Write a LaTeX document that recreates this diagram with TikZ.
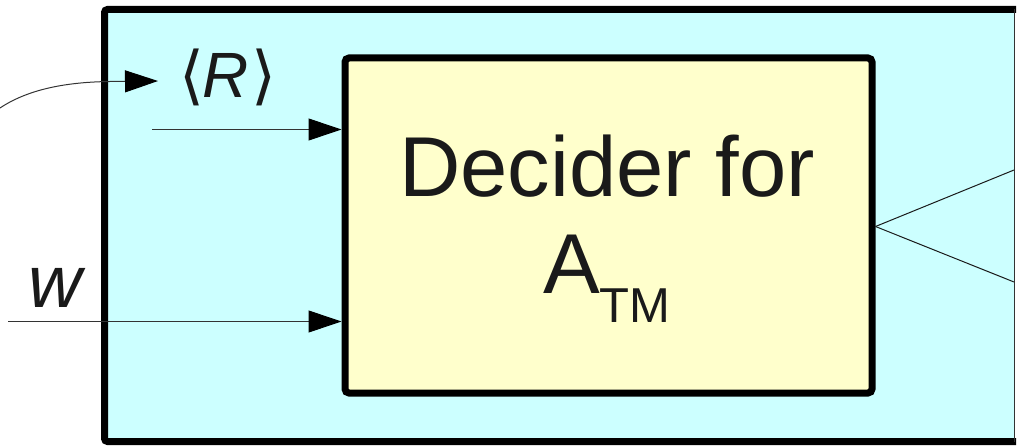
\documentclass[tikz,border=0pt]{standalone}
\usepackage{fontspec}
\setmainfont{Liberation Sans}
\newfontfamily\bracketfont{DejaVu Sans}
\usetikzlibrary{arrows.meta}
\definecolor{machinefill}{HTML}{CCFFFF}
\definecolor{deciderfill}{HTML}{FFFFCC}
\definecolor{ink}{HTML}{1A1A1A}
\definecolor{wire}{HTML}{333333}
\begin{document}
\begin{tikzpicture}[x=1pt,y=-1pt,
  frame/.style={line width=7pt, rounded corners=3pt},
  feed/.style={draw=wire, line width=1pt, -{Triangle[length=33pt,width=22pt,color=black]}},
  branch/.style={draw=ink, line width=1pt},
  label/.style={text=ink, inner sep=0pt, anchor=base}]
\useasboundingbox (0,0) rectangle (1019,446);
% outer machine, cut at the right edge
\fill[machinefill] (104.5,9.5) rectangle (1015,441.5);
\draw[frame] (1016,9.5) -- (104.5,9.5) -- (104.5,441.5) -- (1016,441.5);
\draw[wire, line width=1pt] (1014,9.5) -- (1014,441.5);
% decider box
\node[draw, fill=deciderfill, line width=7pt, rounded corners=4pt,
      minimum width=527pt, minimum height=335pt, inner sep=0pt]
      (decider) at (608.5,225.5) {};
\node[label, font=\fontsize{85}{100}\selectfont] (title) at (607,197) {Decider for};
\node[label, font=\fontsize{85}{100}\selectfont, anchor=base west] (atm) at (543,293)
  {A\raisebox{-29pt}{\fontsize{49}{60}\selectfont TM}};
% inputs
\node[label, font=\fontsize{64}{80}\selectfont] (rdesc) at (228,98)
  {{\bracketfont\char"27E8}\kern-2pt\textit{R}\kern2pt{\bracketfont\char"27E9}};
\node[label, font=\fontsize{74}{90}\selectfont\itshape] (w) at (55,307) {w};
\coordinate (rsrc) at (0,108);
\coordinate (rtip) at (158,81);
\coordinate (rin) at (152,129.5);
\coordinate (wsrc) at (8,321.5);
\draw[feed] (rsrc) .. controls (30,88) and (70,82) .. (110,81.5) -- (rtip);
\draw[feed] (rin) -- (decider.west |- rin);
\draw[feed] (wsrc) -- (decider.west |- wsrc);
% outputs
\coordinate (acc) at (1014,170);
\coordinate (rej) at (1014,282);
\draw[branch] (decider.east |- 0,226.5) -- (acc);
\draw[branch] (decider.east |- 0,226.5) -- (rej);
\end{tikzpicture}
\end{document}
